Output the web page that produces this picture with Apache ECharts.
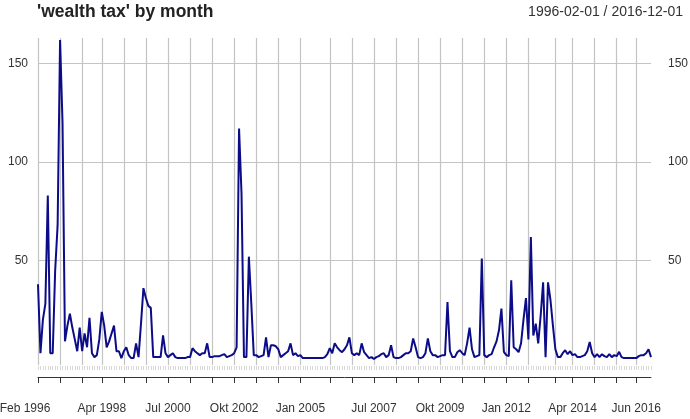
<!DOCTYPE html>
<html><head><meta charset="utf-8">
<script src="https://cdn.jsdelivr.net/npm/echarts@6/dist/echarts.min.js"></script>
<style>html,body{margin:0;padding:0;background:#fff}#c{width:690px;height:419px}</style>
</head><body><div id="c"></div>
<script>
// monthly values, Feb 1996 .. Dec 2016
const v1996 = [38,3,20,28,83,3,3,45,68,162,120];
const v1997 = [9,17,23,16,10,4,16,4,13,6,21,3];
const v1998 = [1,2,10,24,17,6,9,13,17,4,4,0.5];
const v1999 = [4,6,2,0.5,0.5,8,1,18,36,31,27,26];
const v2000 = [1,1,1,1,12,3,1,2,3,1,0.5,0.5];
const v2001 = [0.5,0.5,1,1,5.5,4,3,2,3,3,8,1];
const v2002 = [1,1.5,1.5,1.5,2,2.5,1,1.5,2,3,6,117];
const v2003 = [84,1,1,52,28,2,2,1,1.5,2,11,1];
const v2004 = [7,7,6.5,5,1,2,3,4,8,2,3,1.5];
const v2005 = [2,0.5,0.5,0.5,0.5,0.5,0.5,0.5,0.5,0.5,1,2.5];
const v2006 = [5.5,3,8,6,4.5,3.5,5,7,11,3,2,3];
const v2007 = [2,8,3.5,2,0.5,1,0,1,1.5,2.5,3,1];
const v2008 = [2,7,1,0.5,0.5,1,2,3,3,4,10.5,6];
const v2009 = [1,0.5,1,3,10.5,4,2,2,1,1.5,2,2];
const v2010 = [29,4,1,1,3.5,4.5,3,2,8,16,5,1];
const v2011 = [1.5,2,51,2,1,2,2.5,6,9,14.6,25.6,3.7];
const v2012 = [2,1.5,40,6,5,3.5,8,20,31,10,62,12];
const v2013 = [18,8,22,39,1,39,30,17,5,1,1,3];
const v2014 = [4.5,2.5,4,2,2.5,1,1,1.5,2,4,8.7,3];
const v2015 = [1,2.5,1,2.5,1.5,1,2.5,1,2,1.5,3.7,1];
const v2016 = [0.5,0.5,0.5,0.5,0.5,0.5,1.5,2,2,3,5,1];

const monthNames = ["Jan","Feb","Mär","Apr","Mai","Jun","Jul","Aug","Sep","Okt","Nov","Dez"];
const startYear = 1996, startMonth = 1;

// major tick positions (month index) and labelled ones
const tickIndex = [0,9,18,26,35,44,53,62,71,80,89,98,107,119,128,137,146,155,164,173,182,191,200,211,218,227,236,244];
const labelIndex = [0,26,53,80,107,137,164,191,218,244];
const yTickValues = [50,100,150];

const values = [].concat(v1996,v1997,v1998,v1999,v2000,v2001,v2002,v2003,v2004,v2005,v2006,v2007,v2008,v2009,v2010,v2011,v2012,v2013,v2014,v2015,v2016);
const categories = values.map((_, i) => {
  const m = startMonth + i;
  return monthNames[m % 12] + ' ' + (startYear + Math.floor(m / 12));
});
const tickSet = new Set(tickIndex);
const labelSet = new Set(labelIndex);

const font = 'Liberation Sans, Arial, sans-serif';
const chart = echarts.init(document.getElementById('c'), null, {renderer: 'canvas'});
chart.setOption({
  animation: false,
  backgroundColor: '#fff',
  title: [
    {text: "'wealth tax' by month", left: 37, top: 3, padding: 0,
     textStyle: {fontFamily: font, fontSize: 17.5, fontWeight: 'bold', color: '#222'}},
    {text: '1996-02-01 / 2016-12-01', right: 7, top: 5, padding: 0,
     textStyle: {fontFamily: font, fontSize: 14, fontWeight: 'normal', color: '#333'}}
  ],
  grid: {left: 38, right: 39, top: 38, bottom: 54, containLabel: false, outerBoundsMode: 'none'},
  xAxis: [
    {
      type: 'category', data: categories, boundaryGap: false, position: 'bottom', offset: 12,
      axisLine: {show: true, onZero: false, lineStyle: {color: '#333', width: 1}},
      axisTick: {show: true, length: 6, interval: (i) => tickSet.has(i), lineStyle: {color: '#333'}},
      axisLabel: {show: true, interval: (i) => labelSet.has(i), margin: 26,
                  fontFamily: font, fontSize: 12, color: '#333',
                  formatter: (val, idx) => idx === 0 ? '{first|' + val + '}' : val,
                  rich: {first: {fontFamily: font, fontSize: 12, color: '#333', padding: [0, 26, 0, 0]}}},
      splitLine: {show: true, interval: (i) => tickSet.has(i), lineStyle: {color: '#c4c4c4', width: 1.2}}
    },
    {
      type: 'category', data: categories, boundaryGap: false, position: 'bottom', offset: 1,
      axisLine: {show: false, onZero: false},
      axisTick: {show: true, length: 4, interval: 0, lineStyle: {color: '#d8d8d8'}},
      axisLabel: {show: false},
      splitLine: {show: false}
    }
  ],
  yAxis: [
    {
      type: 'value', min: -3, max: 163, position: 'left',
      axisLine: {show: false},
      axisTick: {show: false, customValues: yTickValues},
      axisLabel: {customValues: yTickValues, margin: 10, fontFamily: font, fontSize: 12, color: '#333'},
      splitLine: {show: true, lineStyle: {color: '#c4c4c4', width: 1.2}}
    },
    {
      type: 'value', min: -3, max: 163, position: 'right',
      axisLine: {show: false},
      axisTick: {show: false, customValues: yTickValues},
      axisLabel: {customValues: yTickValues, margin: 17, fontFamily: font, fontSize: 12, color: '#333'},
      splitLine: {show: false}
    }
  ],
  series: [{
    type: 'line', data: values, xAxisIndex: 0, yAxisIndex: 0,
    showSymbol: false, symbol: 'none',
    lineStyle: {color: '#0c0c88', width: 2},
    emphasis: {disabled: true}
  }]
});
</script></body></html>
